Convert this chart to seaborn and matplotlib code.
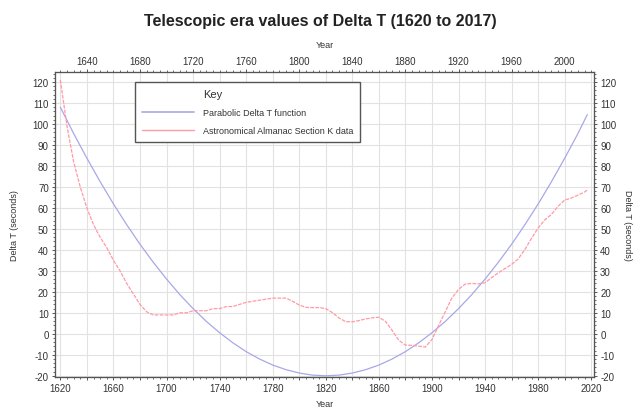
import matplotlib
matplotlib.use("Agg")
import matplotlib.pyplot as plt
from matplotlib.lines import Line2D
from matplotlib.ticker import MultipleLocator, FixedLocator
import seaborn as sns
import pandas as pd

# Parabolic Delta T function
para_years = [1620, 1630, 1640, 1650, 1660, 1670, 1680, 1690, 1700, 1710, 1720,
              1730, 1740, 1750, 1760, 1770, 1780, 1790, 1800, 1810, 1820, 1830,
              1840, 1850, 1860, 1870, 1880, 1890, 1900, 1910, 1920, 1930, 1940,
              1950, 1960, 1970, 1980, 1990, 2000, 2010, 2017]
para_values = [108, 95.5, 83.7, 72.5, 61.9, 52.0, 42.7, 34.1, 26.1, 18.7, 12.0,
               5.9, 0.5, -4.3, -8.5, -12.0, -14.9, -17.1, -18.7, -19.7, -20.0, -19.7,
               -18.7, -17.1, -14.9, -12.0, -8.5, -4.3, 0.5, 5.9, 12.0, 18.7, 26.1,
               34.1, 42.7, 52.0, 61.9, 72.5, 83.7, 95.5, 104.5]

# Astronomical Almanac Section K data
aa_years = [1620, 1625, 1630, 1635, 1640, 1645, 1650, 1655, 1660, 1665, 1670,
            1675, 1680, 1685, 1690, 1695, 1700, 1705, 1710, 1715, 1720, 1725,
            1730, 1735, 1740, 1745, 1750, 1755, 1760, 1765, 1770, 1775, 1780,
            1785, 1790, 1795, 1800, 1805, 1810, 1815, 1820, 1825, 1830, 1835,
            1840, 1845, 1850, 1855, 1860, 1865, 1870, 1875, 1880, 1885, 1890,
            1895, 1900, 1905, 1910, 1915, 1920, 1925, 1930, 1935, 1940, 1945,
            1950, 1955, 1960, 1965, 1970, 1975, 1980, 1985, 1990, 1995, 2000,
            2005, 2010, 2015, 2017]
aa_values = [121, 99, 82, 70, 60, 52, 46, 41, 35, 30, 24,
             19, 14, 10.5, 9, 9, 9, 9, 10, 10, 11, 11,
             11, 12, 12, 13, 13, 14, 15, 15.5, 16, 16.5, 17,
             17, 17, 15.5, 13.7, 12.6, 12.5, 12.5, 12.0, 10.1, 7.5, 5.8,
             5.7, 6.3, 7.1, 7.6, 7.9, 5.9, 1.6, -3.1, -5.4, -5.5, -5.9,
             -6.3, -2.7, 4.0, 10.5, 17.1, 21.2, 23.7, 24.0, 23.8, 24.3, 26.8,
             29.1, 31.1, 33.1, 35.7, 40.2, 45.5, 50.5, 54.3, 56.9, 60.8, 63.8,
             64.7, 66.1, 67.6, 68.6]

bottom_ticks = list(range(1620, 2021, 20))
top_ticks = list(range(1640, 2001, 40))
y_ticks = list(range(-20, 121, 10))

sns.set_theme(style="white")
plt.rcParams['font.family'] = ['Liberation Sans', 'DejaVu Sans']
plt.rcParams['axes.unicode_minus'] = False

blue = "#a8a8e8"
red = "#ff9aa6"

fig = plt.figure(figsize=(6.4, 4.1), dpi=100)
ax = fig.add_axes([0.086, 0.078, 0.842, 0.744])

para_df = pd.DataFrame({"Year": para_years, "DeltaT": para_values})
aa_df = pd.DataFrame({"Year": aa_years, "DeltaT": aa_values})
sns.lineplot(data=para_df, x="Year", y="DeltaT", ax=ax, color=blue, lw=0.9)
sns.lineplot(data=aa_df, x="Year", y="DeltaT", ax=ax, color=red, lw=0.9,
             linestyle=(0, (3, 1)))

ax.set_xlim(1616, 2022)
ax.set_ylim(-20.6, 124.8)

ax.xaxis.set_major_locator(FixedLocator(bottom_ticks))
ax.set_xticklabels([str(t) if (t - 1620) % 40 == 0 else "" for t in bottom_ticks])
ax.xaxis.set_minor_locator(MultipleLocator(5))
ax.yaxis.set_major_locator(FixedLocator(y_ticks))
ax.yaxis.set_minor_locator(MultipleLocator(2))
ax.grid(True, which="major", color="#e2e2e2", lw=0.8)
ax.tick_params(axis="both", which="major", labelsize=7, direction="out",
               length=2.5, width=0.7, color="#555555", pad=2, labelcolor="#333333")
ax.tick_params(axis="both", which="minor", direction="out", length=1.5,
               width=0.6, color="#555555")
ax.tick_params(bottom=True, left=True, which="both")
for s in ax.spines.values():
    s.set_color("#555555")
    s.set_linewidth(0.8)

ax.set_xlabel("Year", fontsize=6.5, color="#333333", labelpad=4)
ax.set_ylabel("Delta T (seconds)", fontsize=6.5, color="#333333", labelpad=10)

axt = ax.twiny()
axt.set_xlim(ax.get_xlim())
axt.xaxis.set_major_locator(FixedLocator(top_ticks))
axt.xaxis.set_minor_locator(MultipleLocator(5))
axt.tick_params(axis="x", which="major", labelsize=7, direction="out",
                length=2.5, width=0.7, color="#555555", pad=2, labelcolor="#333333")
axt.tick_params(axis="x", which="minor", direction="out", length=1.5,
                width=0.6, color="#555555")
axt.set_xlabel("Year", fontsize=6.5, color="#333333", labelpad=6)
axt.grid(False)

axr = ax.twinx()
axr.set_ylim(ax.get_ylim())
axr.yaxis.set_major_locator(FixedLocator(y_ticks))
axr.yaxis.set_minor_locator(MultipleLocator(2))
axr.tick_params(axis="y", which="major", labelsize=7, direction="out",
                length=2.5, width=0.7, color="#555555", pad=2, labelcolor="#333333")
axr.tick_params(axis="y", which="minor", direction="out", length=1.5,
                width=0.6, color="#555555")
axr.set_ylabel("Delta T (seconds)", fontsize=6.5, color="#333333",
               rotation=270, labelpad=11)
axr.grid(False)
for a in (axt, axr):
    for s in a.spines.values():
        s.set_color("#555555")
        s.set_linewidth(0.8)

handles = [Line2D([], [], color="none"),
           Line2D([], [], color=blue, lw=1.2),
           Line2D([], [], color=red, lw=1.0)]
labels = ["Key", "Parabolic Delta T function", "Astronomical Almanac Section K data"]
leg = axr.legend(handles, labels, loc="upper left", bbox_to_anchor=(0.148, 0.967),
                 borderaxespad=0, fontsize=6.5, handlelength=5.8, labelspacing=1.0,
                 frameon=True, fancybox=False, framealpha=1, edgecolor="#555555",
                 borderpad=0.75, handletextpad=1.0)
leg.get_frame().set_linewidth(1.0)
leg.get_texts()[0].set_fontsize(8)
for t in leg.get_texts():
    t.set_color("#333333")

fig.suptitle("Telescopic era values of Delta T (1620 to 2017)", fontsize=11.5,
             fontweight="bold", y=0.965, color="#222222")

fig.savefig("out.png", dpi=100)
